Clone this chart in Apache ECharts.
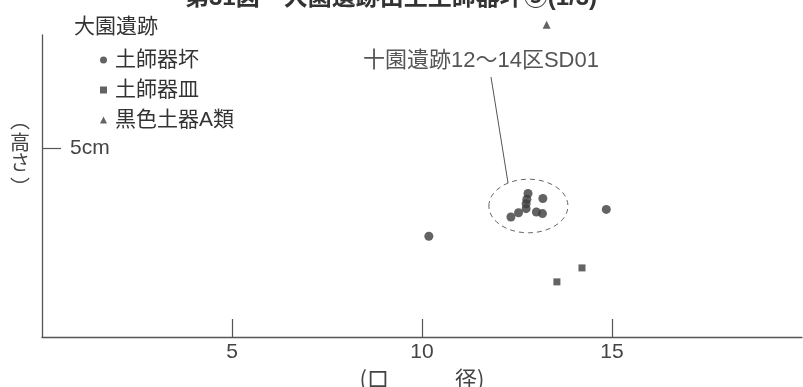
<!DOCTYPE html>
<html>
<head>
<meta charset="utf-8">
<script src="https://cdn.jsdelivr.net/npm/echarts@6/dist/echarts.min.js"></script>
<style>
  html, body { margin: 0; padding: 0; background: #fff; }
  #chart { width: 803px; height: 387px; }
</style>
</head>
<body>
<div id="chart"></div>
<script>
// 口径 (cm) / 高さ (cm)
const cupDiameter = [10.18, 14.85, 12.34, 12.54, 12.74, 12.74, 12.76, 12.79, 13.18, 13.01, 13.17];
const cupHeight = [2.67, 3.38, 3.18, 3.29, 3.40, 3.53, 3.65, 3.80, 3.67, 3.31, 3.27];
const plateDiameter = [13.55, 14.21];
const plateHeight = [1.46, 1.83];
const blackDiameter = [13.28];
const blackHeight = [8.27];

const xTicks = [5, 10, 15];
const yTicks = [5];

const seriesNames = ["土師器坏", "土師器皿", "黒色土器A類"];

// cluster marked with the dashed ring (data units)
const ringCenter = [12.8, 3.47];
const ringRadius = [1.04, 0.71];

const font = "'Liberation Sans', 'Noto Sans CJK JP', sans-serif";
const cjk = "'Noto Sans CJK JP', sans-serif";
const ink = "#3c3c3c";
const axisColor = "#555";

function pairs(xs, ys) {
  return xs.map((x, i) => [x, ys[i]]);
}

const chart = echarts.init(document.getElementById("chart"));

chart.setOption({
  animation: false,
  backgroundColor: "#fff",
  textStyle: { fontFamily: font },
  title: [
    {
      text: "第31図　大園遺跡出土土師器坏③(1/3)",
      left: 180,
      top: -19,
      textStyle: { fontSize: 24, fontWeight: "bold", color: "#333", fontFamily: font },
    },
    {
      text: "大園遺跡",
      left: 69,
      top: 12,
      textStyle: { fontSize: 21, fontWeight: "normal", color: "#333", fontFamily: font },
    },
  ],
  legend: {
    orient: "vertical",
    left: 95,
    top: 44,
    itemWidth: 7,
    itemHeight: 7,
    itemGap: 8,
    data: seriesNames,
    textStyle: {
      fontSize: 21,
      color: "#333",
      lineHeight: 22,
      padding: [0, 0, 0, 3],
      fontFamily: font,
    },
  },
  grid: {
    left: 42,
    right: 1,
    top: 35,
    bottom: 50,
    outerBoundsMode: "none",
  },
  xAxis: {
    type: "value",
    min: 0,
    max: 20,
    interval: 5,
    name: "(口　　　径)",
    nameLocation: "middle",
    nameGap: 24,
    nameTextStyle: { fontSize: 22, color: "#444", fontFamily: cjk },
    axisLine: { lineStyle: { color: axisColor, width: 1.3 } },
    axisTick: {
      inside: true,
      length: 18,
      customValues: xTicks,
      lineStyle: { color: axisColor, width: 1.2 },
    },
    axisLabel: {
      customValues: xTicks,
      margin: 5,
      fontSize: 21,
      color: "#444",
      formatter: (v) => (xTicks.includes(v) ? String(v) : ""),
    },
    splitLine: { show: false },
  },
  yAxis: {
    type: "value",
    min: 0,
    max: 8,
    interval: 5,
    axisLine: { show: true, lineStyle: { color: axisColor, width: 1.3 } },
    axisTick: {
      show: true,
      inside: true,
      length: 19,
      customValues: yTicks,
      lineStyle: { color: axisColor, width: 1.2 },
    },
    axisLabel: {
      inside: true,
      customValues: yTicks,
      margin: 28,
      fontSize: 21,
      color: "#444",
      formatter: (v) => (yTicks.includes(v) ? v + "cm" : ""),
    },
    splitLine: { show: false },
  },
  series: [
    {
      name: seriesNames[0],
      type: "scatter",
      symbol: "circle",
      symbolSize: 9,
      itemStyle: { color: ink },
      data: pairs(cupDiameter, cupHeight),
    },
    {
      name: seriesNames[1],
      type: "scatter",
      symbol: "rect",
      symbolSize: 7,
      itemStyle: { color: ink },
      data: pairs(plateDiameter, plateHeight),
    },
    {
      name: seriesNames[2],
      type: "scatter",
      symbol: "triangle",
      symbolSize: 8,
      clip: false,
      itemStyle: { color: ink },
      data: pairs(blackDiameter, blackHeight),
    },
  ],
});

// annotation: dashed ring round the SD01 cluster, leader line and label
const c = chart.convertToPixel({ gridIndex: 0 }, ringCenter);
const edge = chart.convertToPixel({ gridIndex: 0 }, [
  ringCenter[0] + ringRadius[0],
  ringCenter[1] + ringRadius[1],
]);
const rx = edge[0] - c[0];
const ry = c[1] - edge[1];
const t = (121 * Math.PI) / 180;
const lineEnd = [c[0] + rx * Math.cos(t), c[1] - ry * Math.sin(t)];

// vertical y-axis title, one glyph per element
// (the vertical bracket glyphs sit low/high in their em box)
const yTitle = ["︵", "高", "さ", "︶"];
const yTitleRows = [120, 142, 162, 187];
const yTitleGlyphs = yTitle.map((ch, i) => ({
  type: "text",
  x: 20,
  y: yTitleRows[i],
  style: {
    text: ch,
    fontSize: 20,
    fontFamily: cjk,
    fill: "#444",
    textAlign: "center",
    textVerticalAlign: "middle",
  },
  silent: true,
}));

chart.setOption({
  graphic: [
    {
      type: "ellipse",
      shape: { cx: c[0], cy: c[1], rx: rx, ry: ry },
      style: { fill: "none", stroke: "#666", lineWidth: 1, lineDash: [5, 4] },
      silent: true,
    },
    {
      type: "line",
      shape: { x1: 491, y1: 77, x2: lineEnd[0], y2: lineEnd[1] },
      style: { stroke: "#555", lineWidth: 1 },
      silent: true,
    },
    {
      type: "text",
      x: 363,
      y: 61,
      style: {
        text: "十園遺跡12～14区SD01",
        fontSize: 22,
        fontFamily: font,
        fill: "#555",
        textVerticalAlign: "middle",
      },
      silent: true,
    },
  ].concat(yTitleGlyphs),
});
</script>
</body>
</html>
